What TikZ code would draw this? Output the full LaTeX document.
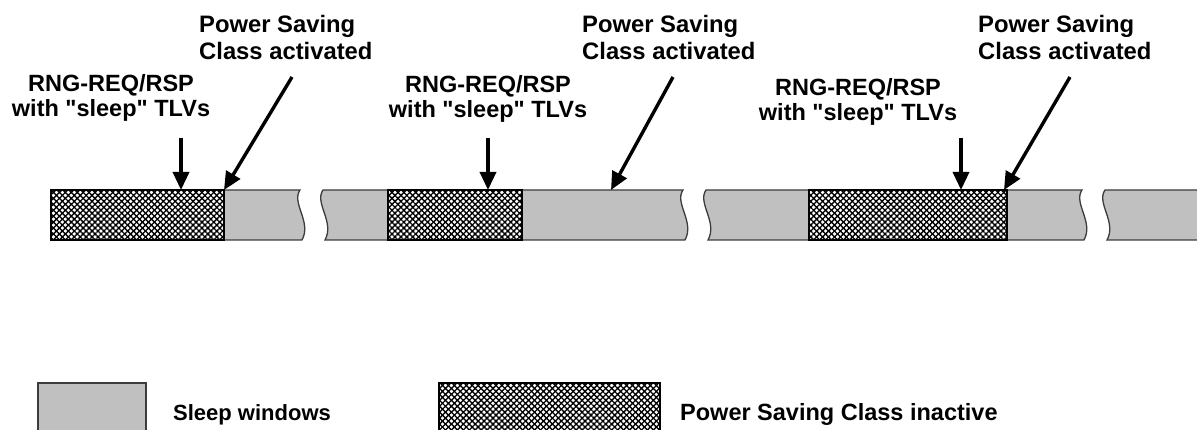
\documentclass[tikz,border=0pt]{standalone}
\usepackage{fontspec}
\setmainfont{Liberation Sans}[Ligatures=TeXReset]
\usetikzlibrary{arrows.meta,patterns.meta}
\definecolor{sleepgrey}{RGB}{192,192,192}
\definecolor{bordergrey}{RGB}{60,60,60}
\tikzset{
  rnglbl/.style={font=\bfseries\fontsize{23.5}{25}\selectfont, inner sep=0pt, align=center, anchor=north},
  pslbl/.style={font=\bfseries\fontsize{23.8}{27.5}\selectfont, inner sep=0pt, align=left, anchor=north west},
  leglbl/.style={font=\bfseries\fontsize{22}{25}\selectfont, inner sep=0pt, anchor=base west},
  sleepfill/.style={fill=sleepgrey, draw=bordergrey, line width=1.3pt},
  hatchfill/.style={fill=white,
    postaction={pattern={Lines[angle=45,distance=4.2pt,line width=1.35pt]}},
    postaction={pattern={Lines[angle=-45,distance=4.2pt,line width=1.35pt]}},
    postaction={draw=black,line width=1.3pt}},
  ptr/.style={line width=3.4pt, -{Triangle[width=16pt,length=18pt]}},
}
\begin{document}
\begin{tikzpicture}[x=1pt,y=-1pt]
\useasboundingbox (0,0) rectangle (1197,430);

% sleep (grey) pieces of the time line
\path[sleepfill] (224,190) -- (300,190) .. controls (291,203) and (312,222) .. (302,240) -- (224,240) -- cycle;
\path[sleepfill] (323,190) -- (683,190) .. controls (674,203) and (695,222) .. (685,240) -- (325,240) .. controls (335,222) and (314,203) .. (323,190) -- cycle;
\path[sleepfill] (706,190) -- (1082,190) .. controls (1073,203) and (1094,222) .. (1084,240) -- (708,240) .. controls (718,222) and (697,203) .. (706,190) -- cycle;
\path[sleepfill] (1202,190) -- (1105,190) .. controls (1096,203) and (1117,222) .. (1107,240) -- (1202,240) -- cycle;

% inactive (hatched) segments
\path[hatchfill] (51,190) rectangle (224,240);
\path[hatchfill] (388,190) rectangle (522,240);
\path[hatchfill] (809,190) rectangle (1007,240);

% labels
\node[rnglbl] (rng1) at (111,74) {RNG-REQ/RSP\\with "sleep" TLVs};
\node[rnglbl] (rng2) at (488,75) {RNG-REQ/RSP\\with "sleep" TLVs};
\node[rnglbl] (rng3) at (858,78) {RNG-REQ/RSP\\with "sleep" TLVs};
\node[pslbl] (ps1) at (199,15) {Power Saving\\Class activated};
\node[pslbl] (ps2) at (582,15) {Power Saving\\Class activated};
\node[pslbl] (ps3) at (978,15) {Power Saving\\Class activated};

% arrow coordinates
\coordinate (v1s) at (181,138); \coordinate (v1e) at (181,190);
\coordinate (d1s) at (292,77);  \coordinate (d1e) at (224,190);
\coordinate (v2s) at (488,138); \coordinate (v2e) at (488,190);
\coordinate (d2s) at (673,77);  \coordinate (d2e) at (611,190);
\coordinate (v3s) at (961,138); \coordinate (v3e) at (961,190);
\coordinate (d3s) at (1070,77); \coordinate (d3e) at (1004,190);

\draw[ptr] (v1s) -- (v1e);
\draw[ptr] (d1s) -- (d1e);
\draw[ptr] (v2s) -- (v2e);
\draw[ptr] (d2s) -- (d2e);
\draw[ptr] (v3s) -- (v3e);
\draw[ptr] (d3s) -- (d3e);

% legend
\path[sleepfill] (38,383) rectangle (146,434);
\path[hatchfill] (439,383) rectangle (660,434);
\node[leglbl] (leg1) at (173,420) {Sleep windows};
\node[leglbl, font=\bfseries\fontsize{23.5}{25}\selectfont] (leg2) at (680,420) {Power Saving Class inactive};
\end{tikzpicture}
\end{document}
